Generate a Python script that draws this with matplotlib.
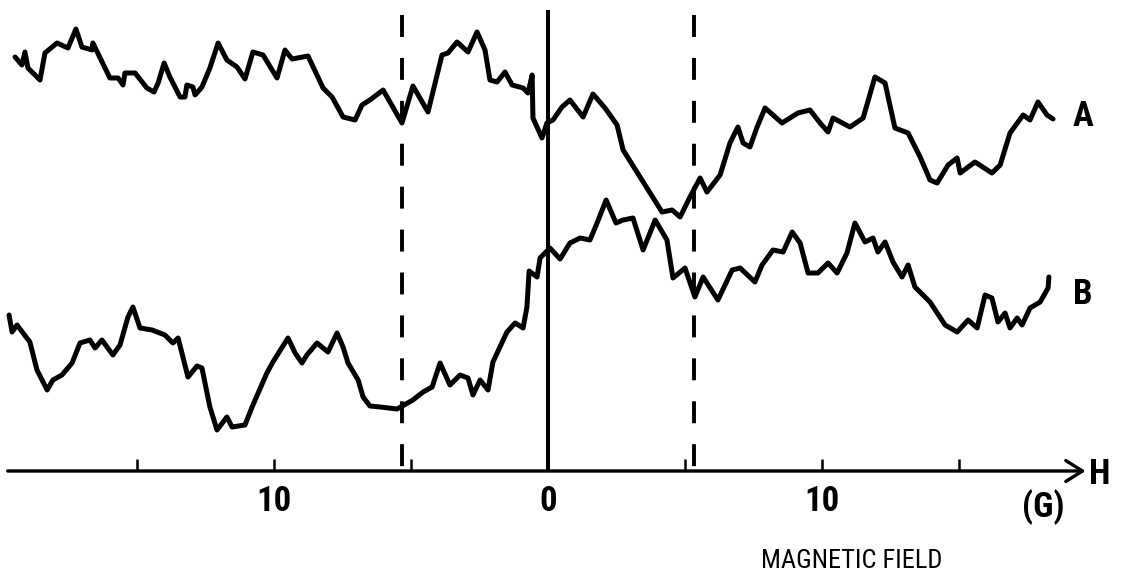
import matplotlib
matplotlib.use("Agg")
import matplotlib.pyplot as plt
from matplotlib import font_manager

# ---- data -------------------------------------------------------------
# magnetic field (G) and signal (arb. units) for trace A
field_a = [-19.45, -19.20, -19.09, -18.98, -18.54, -18.36, -17.92, -17.52, -17.23, -17.01,
           -16.64, -16.61, -15.99, -15.69, -15.51, -15.44, -15.07, -14.64, -14.38, -14.23,
           -14.01, -13.80, -13.43, -13.25, -13.18, -12.96, -12.88, -12.63, -12.34, -12.04,
           -11.72, -11.35, -11.06, -10.77, -10.40, -9.89, -9.60, -9.34, -8.76, -8.21,
           -7.88, -7.48, -7.04, -6.79, -6.50, -6.02, -5.33, -4.93, -4.38, -3.87,
           -3.65, -3.32, -2.92, -2.59, -2.30, -2.12, -1.86, -1.57, -1.31, -0.91,
           -0.73, -0.58, -0.55, -0.22, -0.04, 0.18, 0.51, 0.80, 1.28, 1.64,
           2.08, 2.52, 2.74, 3.61, 4.16, 4.53, 4.82, 5.18, 5.55, 5.80,
           6.28, 6.64, 6.93, 7.12, 7.37, 7.63, 7.92, 8.54, 9.12, 9.56,
           9.93, 10.22, 10.40, 11.02, 11.50, 11.93, 12.30, 12.66, 13.14, 13.58,
           13.94, 14.20, 14.60, 14.93, 15.04, 15.58, 16.20, 16.50, 16.86, 17.34,
           17.59, 17.88, 18.21, 18.43]
signal_a = [41.4, 40.6, 41.9, 40.3, 39.1, 41.8, 42.8, 42.3, 44.2, 42.4,
            42.1, 42.8, 39.3, 39.3, 38.6, 39.8, 39.8, 38.3, 37.9, 38.8,
            40.8, 39.4, 37.4, 37.4, 38.6, 38.4, 37.6, 38.4, 40.3, 42.8,
            41.1, 40.4, 39.2, 41.9, 41.6, 39.3, 42.1, 41.2, 41.5, 38.3,
            37.4, 35.4, 35.1, 36.6, 37.1, 38.1, 34.8, 38.5, 35.9, 41.6,
            41.8, 42.9, 41.9, 43.9, 42.1, 39.1, 38.9, 39.9, 38.6, 38.3,
            37.8, 39.6, 35.3, 33.3, 34.8, 35.1, 36.4, 37.1, 35.4, 37.7,
            36.3, 34.6, 32.1, 28.3, 25.9, 26.1, 25.4, 27.4, 29.3, 27.9,
            29.6, 32.8, 34.4, 32.8, 32.4, 34.4, 36.3, 34.8, 35.8, 36.1,
            34.8, 33.9, 35.3, 34.4, 35.3, 39.4, 38.8, 34.3, 33.8, 31.4,
            29.1, 28.8, 30.6, 31.3, 29.8, 30.9, 29.8, 30.6, 33.8, 35.6,
            35.1, 36.9, 35.6, 35.2]

# magnetic field (G) and signal (arb. units) for trace B
field_b = [-19.67, -19.56, -19.38, -18.91, -18.65, -18.28, -18.07, -17.74, -17.37, -17.08,
           -16.72, -16.53, -16.28, -15.88, -15.62, -15.33, -15.15, -14.89, -14.45, -13.98,
           -13.69, -13.50, -13.14, -12.81, -12.63, -12.34, -12.08, -11.72, -11.53, -11.06,
           -10.80, -10.26, -10.04, -9.49, -9.23, -8.98, -8.80, -8.43, -8.03, -7.70,
           -7.48, -7.30, -6.93, -6.75, -6.50, -6.13, -5.51, -4.93, -4.56, -4.23,
           -3.94, -3.58, -3.21, -2.92, -2.74, -2.48, -2.19, -2.01, -1.50, -1.20,
           -0.91, -0.77, -0.69, -0.40, -0.29, 0.07, 0.44, 0.80, 1.17, 1.53,
           1.79, 2.12, 2.48, 2.74, 3.10, 3.47, 3.91, 4.34, 4.56, 5.00,
           5.36, 5.66, 6.20, 6.72, 7.01, 7.55, 7.81, 8.21, 8.58, 8.91,
           9.20, 9.49, 9.85, 10.22, 10.55, 10.91, 11.20, 11.57, 11.86, 12.04,
           12.30, 12.59, 12.92, 13.14, 13.39, 13.94, 14.49, 14.93, 15.33, 15.66,
           15.95, 16.20, 16.42, 16.68, 16.86, 17.12, 17.30, 17.59, 17.96, 18.25,
           18.28]
signal_b = [15.6, 13.9, 14.6, 12.9, 10.1, 8.1, 9.1, 9.6, 10.8, 12.8,
            13.1, 12.3, 13.1, 11.6, 12.6, 15.4, 16.4, 14.3, 14.1, 13.6,
            12.8, 13.3, 9.4, 10.5, 10.3, 6.4, 4.1, 5.4, 4.4, 4.6,
            6.4, 9.8, 10.9, 13.3, 11.8, 10.8, 11.6, 12.8, 11.9, 13.8,
            12.4, 10.8, 9.1, 7.4, 6.5, 6.4, 6.2, 7.1, 7.9, 8.4,
            10.8, 8.6, 9.6, 9.3, 7.6, 9.1, 8.1, 10.9, 13.9, 14.8,
            14.3, 16.4, 20.0, 19.4, 21.3, 22.3, 21.2, 22.8, 23.3, 23.1,
            24.8, 27.1, 24.8, 25.1, 25.3, 22.1, 25.1, 23.1, 19.3, 20.3,
            17.4, 19.4, 17.1, 20.1, 20.3, 18.9, 20.6, 22.1, 21.9, 23.9,
            22.8, 19.8, 19.8, 20.8, 19.8, 21.8, 24.8, 22.9, 23.3, 21.9,
            22.9, 20.9, 19.4, 20.6, 18.4, 16.9, 14.6, 13.9, 15.1, 14.3,
            17.6, 17.3, 14.9, 15.8, 14.3, 15.3, 14.6, 16.3, 16.9, 18.3,
            19.4]

tick_positions = [-15, -10, -5, 0, 5, 10, 15]
tick_labels = ["", "10", "", "0", "", "10", ""]
marker_fields = [-5.33, 5.33]     # dashed reference positions (G)
trace_names = ["A", "B"]
trace_label_pos = [(19.53, 35.5), (19.53, 17.6)]


# ---- fonts ------------------------------------------------------------
def first_installed(names):
    for name in names:
        try:
            font_manager.findfont(font_manager.FontProperties(family=name),
                                  fallback_to_default=False)
            return name
        except Exception:
            continue
    return "DejaVu Sans"


narrow = first_installed(["Liberation Sans Narrow", "Arial Narrow", "Roboto Condensed",
                          "Open Sans Condensed", "Liberation Sans"])

INK = "black"

# ---- figure -----------------------------------------------------------
plt.rcParams["lines.scale_dashes"] = False
fig = plt.figure(figsize=(11.24, 5.84), dpi=100)
ax = fig.add_axes([0, 0, 1, 1])
ax.set_xlim(-20.0, 21.02)
ax.set_ylim(-11.3, 47.1)

for side in ("top", "right", "left", "bottom"):
    ax.spines[side].set_visible(False)
ax.spines["bottom"].set_position(("data", 0))

# field axis with arrow head
ax.annotate("", xy=(19.62, 0), xytext=(-19.72, 0),
            arrowprops=dict(arrowstyle="->,head_length=1.2,head_width=0.75",
                            lw=2.4, color=INK, shrinkA=0, shrinkB=0))

ax.set_xticks(tick_positions)
ax.set_xticklabels(tick_labels, fontfamily=narrow, fontweight="bold", fontsize=25)
ax.tick_params(axis="x", direction="in", length=9, width=1.8, color=INK, pad=10)
ax.tick_params(axis="y", left=False, labelleft=False)

# zero-field line and dashed markers
ax.plot([0, 0], [0, 46.1], color=INK, lw=2.9, solid_capstyle="butt")
for xf in marker_fields:
    ax.plot([xf, xf], [45.6, 0], color=INK, lw=2.8,
            linestyle=(0, (15.8, 15.1)), dash_capstyle="butt")

# traces
for xs, ys in ((field_a, signal_a), (field_b, signal_b)):
    ax.plot(xs, ys, color=INK, lw=3.6, solid_joinstyle="round", solid_capstyle="round")

for name, (tx, ty) in zip(trace_names, trace_label_pos):
    ax.text(tx, ty, name, fontfamily=narrow, fontweight="bold", fontsize=25,
            ha="center", va="center", color=INK)

ax.text(20.15, -0.4, "H", fontfamily=narrow, fontweight="bold", fontsize=25,
        ha="center", va="center", color=INK)
ax.text(18.07, -3.6, "(G)", fontfamily=narrow, fontweight="bold", fontsize=25,
        ha="center", va="center", color=INK)
ax.text(11.09, -9.0, "MAGNETIC FIELD", fontfamily=narrow, fontsize=19,
        ha="center", va="center", color=INK)

fig.savefig("out.png", dpi=100, facecolor="white")
